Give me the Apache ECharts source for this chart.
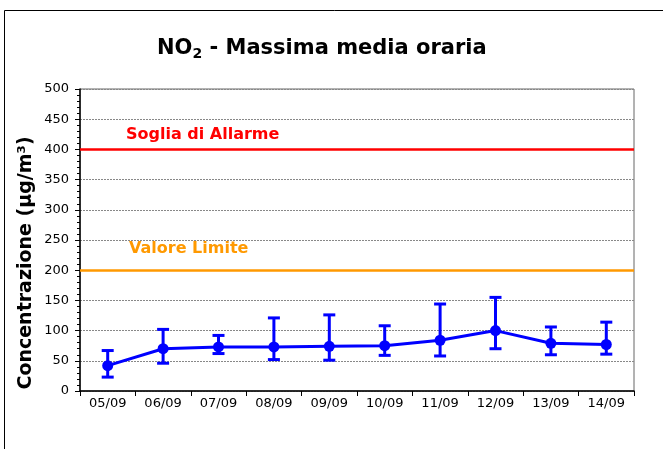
<!DOCTYPE html>
<html>
<head>
<meta charset="utf-8">
<script src="https://cdn.jsdelivr.net/npm/echarts@6/dist/echarts.min.js"></script>
<style>
  html, body { margin: 0; padding: 0; background: #fff; }
  #chart { width: 663px; height: 449px; }
</style>
</head>
<body>
<div id="chart"></div>
<script>
// giorni di misura
const giorni = ['05/09', '06/09', '07/09', '08/09', '09/09', '10/09', '11/09', '12/09', '13/09', '14/09'];
// massima media oraria (µg/m³) e barre di errore
const valori = [42, 70, 73, 73, 74, 75, 84, 100, 79, 77];
const massimi = [67, 102, 92, 121, 126, 108, 144, 155, 106, 114];
const minimi = [23, 46, 62, 52, 51, 59, 58, 70, 60, 61];
// soglie di riferimento
const sogliaAllarme = 400;
const valoreLimite = 200;

const font = 'DejaVu Sans, Verdana, sans-serif';
const chart = echarts.init(document.getElementById('chart'));

const option = {
  animation: false,
  textStyle: { fontFamily: font },
  title: {
    text: '{b|NO}{s|2}{b| - Massima media oraria}',
    left: 152,
    top: 31,
    textStyle: {
      rich: {
        b: { fontFamily: font, fontWeight: 'bold', fontSize: 21, color: '#000' },
        s: { fontFamily: font, fontWeight: 'bold', fontSize: 14, color: '#000', padding: [11, 0, 0, 0] }
      }
    }
  },
  graphic: [
    {
      type: 'rect',
      shape: { x: 4.5, y: 10.5, width: 700, height: 500 },
      style: { fill: 'none', stroke: '#000', lineWidth: 1 },
      silent: true
    },
    {
      type: 'text',
      x: 26,
      y: 263,
      rotation: Math.PI / 2,
      style: {
        text: 'Concentrazione (µg/m³)',
        font: 'bold 19px ' + font,
        fill: '#000',
        align: 'center',
        verticalAlign: 'middle'
      }
    }
  ],
  grid: { left: 80, right: 29, top: 89, bottom: 58, show: true, borderColor: '#666', borderWidth: 1 },
  xAxis: {
    type: 'category',
    data: giorni,
    boundaryGap: true,
    axisLine: { lineStyle: { color: '#000', width: 1.5 } },
    axisTick: { show: true, interval: 0, length: 5, lineStyle: { color: '#000' } },
    axisLabel: { color: '#000', fontSize: 13, margin: 6, fontFamily: font },
    splitLine: { show: false }
  },
  yAxis: {
    type: 'value',
    min: 0,
    max: 500,
    interval: 50,
    axisLine: { show: true, lineStyle: { color: '#000', width: 1.5 } },
    axisTick: { show: true, length: 5, lineStyle: { color: '#000' } },
    minorTick: { show: true, splitNumber: 5, length: 3, lineStyle: { color: '#000' } },
    axisLabel: { color: '#000', fontSize: 13, margin: 11, fontFamily: font },
    splitLine: { show: true, lineStyle: { color: '#888', type: [2, 1], width: 1 } }
  },
  series: [
    {
      name: 'soglie',
      type: 'line',
      data: [],
      markLine: {
        silent: true,
        symbol: 'none',
        data: [
          {
            yAxis: sogliaAllarme,
            lineStyle: { color: '#ff0000', width: 2.5, type: 'solid' },
            label: {
              show: true, position: 'insideStartTop', formatter: 'Soglia di Allarme',
              color: '#ff0000', fontWeight: 'bold', fontSize: 16, fontFamily: font, distance: [46, 7]
            }
          },
          {
            yAxis: valoreLimite,
            lineStyle: { color: '#ff9900', width: 2.5, type: 'solid' },
            label: {
              show: true, position: 'insideStartTop', formatter: 'Valore Limite',
              color: '#ff9900', fontWeight: 'bold', fontSize: 16, fontFamily: font, distance: [49, 13]
            }
          }
        ]
      }
    },
    {
      name: 'errore',
      type: 'custom',
      data: giorni.map((g, i) => [i, minimi[i], massimi[i]]),
      renderItem: function (params, api) {
        const x = api.value(0);
        const lo = api.coord([x, api.value(1)]);
        const hi = api.coord([x, api.value(2)]);
        const w = 6;
        const st = { stroke: '#0000ff', lineWidth: 3 };
        return {
          type: 'group',
          children: [
            { type: 'line', shape: { x1: hi[0], y1: hi[1], x2: lo[0], y2: lo[1] }, style: st },
            { type: 'line', shape: { x1: hi[0] - w, y1: hi[1], x2: hi[0] + w, y2: hi[1] }, style: st },
            { type: 'line', shape: { x1: lo[0] - w, y1: lo[1], x2: lo[0] + w, y2: lo[1] }, style: st }
          ]
        };
      },
      z: 3
    },
    {
      name: 'NO2',
      type: 'line',
      data: valori,
      symbol: 'circle',
      symbolSize: 11,
      lineStyle: { color: '#0000ff', width: 3 },
      itemStyle: { color: '#0000ff' },
      z: 4
    }
  ]
};

chart.setOption(option);
</script>
</body>
</html>
